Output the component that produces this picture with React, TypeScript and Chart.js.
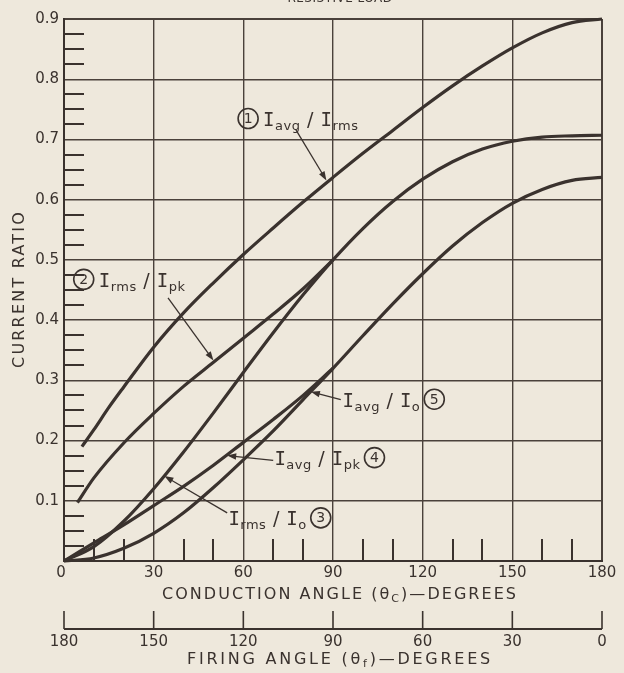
import React, { useEffect, useRef } from 'react';
import { Chart, registerables } from 'chart.js';

Chart.register(...registerables);

// ---------- data ----------
const conductionTicks = [0, 30, 60, 90, 120, 150, 180];
const firingTicks = [180, 150, 120, 90, 60, 30, 0];
const ratioTicks = [0.1, 0.2, 0.3, 0.4, 0.5, 0.6, 0.7, 0.8, 0.9];
const minorAngleTicks = [10, 20, 40, 50, 70, 80, 100, 110, 130, 140, 160, 170];

// (1) Iavg / Irms
const angles1 = [6, 10, 15, 20, 30, 40, 50, 60, 70, 80, 90, 100, 110, 120, 130, 140, 150, 160, 170, 180];
const avgOverRms = [0.19, 0.218, 0.255, 0.289, 0.355, 0.412, 0.462, 0.509, 0.553, 0.596, 0.637, 0.677, 0.715, 0.753, 0.789, 0.822, 0.852, 0.877, 0.894, 0.9];

// (2) Irms / Ipk (joins curve 3 at 90°)
const angles2 = [4.5, 10, 20, 30, 40, 50, 60, 70, 80, 90];
const rmsOverPk = [0.097, 0.138, 0.196, 0.245, 0.29, 0.33, 0.37, 0.41, 0.452, 0.5];

// (3) Irms / Io
const anglesFull = [0, 10, 20, 30, 40, 50, 60, 70, 80, 90, 100, 110, 120, 130, 140, 150, 160, 170, 180];
const rmsOverIo = [0, 0.024, 0.066, 0.12, 0.181, 0.246, 0.313, 0.379, 0.442, 0.5, 0.552, 0.597, 0.634, 0.663, 0.684, 0.697, 0.704, 0.706, 0.707];

// (4) Iavg / Ipk (joins curve 5 at 90°)
const anglesHalf = [0, 10, 20, 30, 40, 50, 60, 70, 80, 90];
const avgOverPk = [0, 0.03, 0.06, 0.092, 0.124, 0.159, 0.197, 0.235, 0.275, 0.32];

// (5) Iavg / Io
const avgOverIo = [0, 0.005, 0.021, 0.046, 0.08, 0.122, 0.168, 0.216, 0.268, 0.32, 0.374, 0.427, 0.477, 0.523, 0.562, 0.594, 0.617, 0.632, 0.637];

// ---------- style ----------
const BG = '#eee8dc';
const INK = '#3a322e';
const GRID = '#4a413b';
const SANS = '"DejaVu Sans", sans-serif';
const MONO = '"DejaVu Sans Mono", monospace';

type Part = { t: string; sub?: boolean; mono?: boolean; size?: number };

function drawParts(ctx: CanvasRenderingContext2D, x: number, baseline: number, parts: Part[], mainSize: number, subSize: number, subDy: number, spacing = 0, measureOnly = false): number {
  let cx = x;
  ctx.letterSpacing = spacing + 'px';
  for (const p of parts) {
    const size = p.size ?? (p.sub ? subSize : mainSize);
    ctx.font = `${size}px ${p.mono ? MONO : SANS}`;
    if (!measureOnly) ctx.fillText(p.t, cx, baseline + (p.sub ? subDy : 0));
    cx += ctx.measureText(p.t).width;
  }
  ctx.letterSpacing = '0px';
  return cx - x;
}

function arrow(ctx: CanvasRenderingContext2D, x1: number, y1: number, x2: number, y2: number) {
  const ang = Math.atan2(y2 - y1, x2 - x1);
  const L = 9, W = 3.2;
  ctx.beginPath();
  ctx.moveTo(x1, y1);
  ctx.lineTo(x2 - Math.cos(ang) * L * 0.8, y2 - Math.sin(ang) * L * 0.8);
  ctx.stroke();
  ctx.beginPath();
  ctx.moveTo(x2, y2);
  ctx.lineTo(x2 - Math.cos(ang) * L - Math.sin(ang) * W, y2 - Math.sin(ang) * L + Math.cos(ang) * W);
  ctx.lineTo(x2 - Math.cos(ang) * L + Math.sin(ang) * W, y2 - Math.sin(ang) * L - Math.cos(ang) * W);
  ctx.closePath();
  ctx.fill();
}

function circled(ctx: CanvasRenderingContext2D, cx: number, cy: number, n: string) {
  ctx.beginPath();
  ctx.lineWidth = 1.6;
  ctx.arc(cx, cy, 10, 0, Math.PI * 2);
  ctx.stroke();
  ctx.font = `14px ${SANS}`;
  ctx.textAlign = 'center';
  ctx.textBaseline = 'middle';
  ctx.fillText(n, cx, cy + 1);
  ctx.textAlign = 'left';
  ctx.textBaseline = 'alphabetic';
}

type Label = {
  n: string;
  parts: Part[];
  circleFirst: boolean;
  at: [number, number];
  tail: [number, number];
  head: [number, number];
};

const labels: Label[] = [
  { n: '1', parts: [{ t: 'I', mono: true }, { t: 'avg', sub: true }, { t: ' / ' }, { t: 'I', mono: true }, { t: 'rms', sub: true }], circleFirst: true, at: [61.6, 0.733], tail: [77.6, 0.716], head: [87.8, 0.632] },
  { n: '2', parts: [{ t: 'I', mono: true }, { t: 'rms', sub: true }, { t: ' / ' }, { t: 'I', mono: true }, { t: 'pk', sub: true }], circleFirst: true, at: [6.6, 0.466], tail: [34.8, 0.437], head: [50, 0.333] },
  { n: '5', parts: [{ t: 'I', mono: true }, { t: 'avg', sub: true }, { t: ' / ' }, { t: 'I', mono: true }, { t: 'o', sub: true }], circleFirst: false, at: [93.2, 0.267], tail: [92.6, 0.268], head: [82.6, 0.281] },
  { n: '4', parts: [{ t: 'I', mono: true }, { t: 'avg', sub: true }, { t: ' / ' }, { t: 'I', mono: true }, { t: 'pk', sub: true }], circleFirst: false, at: [70.4, 0.17], tail: [70.0, 0.167], head: [54.6, 0.175] },
  { n: '3', parts: [{ t: 'I', mono: true }, { t: 'rms', sub: true }, { t: ' / ' }, { t: 'I', mono: true }, { t: 'o', sub: true }], circleFirst: false, at: [55.0, 0.07], tail: [54.6, 0.08], head: [33.6, 0.141] },
];

const decor = {
  id: 'decor',
  beforeDraw(chart: any) {
    const ctx = chart.ctx as CanvasRenderingContext2D;
    ctx.save();
    ctx.fillStyle = BG;
    ctx.fillRect(0, 0, chart.width, chart.height);
    ctx.restore();
  },
  beforeDatasetsDraw(chart: any) {
    const ctx = chart.ctx as CanvasRenderingContext2D;
    const { chartArea, scales } = chart;
    const x = scales.x, y = scales.y;
    ctx.save();
    ctx.strokeStyle = INK;
    ctx.lineWidth = 2;
    for (let k = 1; k < 36; k++) {
      if (k % 4 === 0) continue;
      const py = Math.round(y.getPixelForValue(k * 0.025));
      ctx.beginPath();
      ctx.moveTo(chartArea.left, py);
      ctx.lineTo(chartArea.left + 20, py);
      ctx.stroke();
    }
    for (const a of minorAngleTicks) {
      const px = Math.round(x.getPixelForValue(a));
      ctx.beginPath();
      ctx.moveTo(px, chartArea.bottom);
      ctx.lineTo(px, chartArea.bottom - 22);
      ctx.stroke();
    }
    ctx.restore();
  },
  afterDraw(chart: any) {
    const ctx = chart.ctx as CanvasRenderingContext2D;
    const { chartArea, scales } = chart;
    const x = scales.x, y = scales.y;
    ctx.save();
    ctx.fillStyle = INK;
    ctx.strokeStyle = INK;

    // tick labels
    ctx.font = `15px ${SANS}`;
    ctx.textBaseline = 'middle';
    ctx.textAlign = 'center';
    for (const t of conductionTicks) {
      ctx.fillText(String(t), x.getPixelForValue(t) - (t === 0 ? 3 : 0), chartArea.bottom + 12);
    }
    ctx.textAlign = 'right';
    for (const t of ratioTicks) {
      ctx.fillText(t.toFixed(1), chartArea.left - 5, y.getPixelForValue(t));
    }

    // firing angle axis
    const axY = 629;
    ctx.lineWidth = 2;
    ctx.beginPath();
    ctx.moveTo(x.getPixelForValue(0), axY);
    ctx.lineTo(x.getPixelForValue(180), axY);
    ctx.stroke();
    ctx.lineWidth = 1.6;
    ctx.textAlign = 'center';
    for (const f of firingTicks) {
      const px = x.getPixelForValue(180 - f);
      ctx.beginPath();
      ctx.moveTo(px, axY);
      ctx.lineTo(px, axY - 18);
      ctx.stroke();
      ctx.fillText(String(f), px, axY + 13);
    }

    // axis titles
    ctx.textAlign = 'left';
    ctx.textBaseline = 'middle';
    const titleRow = (parts: Part[], cx: number, cy: number, target: number) => {
      const w0 = drawParts(ctx, 0, 0, parts, 16, 11, 4, 0, true);
      const nChars = parts.reduce((s, p) => s + p.t.length, 0);
      const sp = (target - w0) / nChars;
      const w = drawParts(ctx, 0, 0, parts, 16, 11, 4, sp, true);
      drawParts(ctx, cx - w / 2, cy, parts, 16, 11, 4, sp);
    };
    titleRow([{ t: 'CONDUCTION ANGLE (θ' }, { t: 'C', sub: true }, { t: ')—DEGREES' }], 340, 595, 356);
    titleRow([{ t: 'FIRING ANGLE (θ' }, { t: 'f', sub: true }, { t: ')—DEGREES' }], 340, 660, 306);
    ctx.save();
    ctx.translate(20, 289);
    ctx.rotate(-Math.PI / 2);
    titleRow([{ t: 'CURRENT RATIO' }], 0, 0, 158);
    ctx.restore();

    // cut-off heading at the very top
    ctx.font = `12px ${SANS}`;
    ctx.textAlign = 'center';
    ctx.textBaseline = 'alphabetic';
    ctx.letterSpacing = '0.5px';
    ctx.fillText('RESISTIVE LOAD', 340, 1.5);
    ctx.letterSpacing = '0px';
    ctx.textAlign = 'left';

    // curve labels
    for (const L of labels) {
      const ax = x.getPixelForValue(L.at[0]);
      const ay = y.getPixelForValue(L.at[1]);
      const base = ay + 6.5;
      if (L.circleFirst) {
        circled(ctx, ax, ay - 1, L.n);
        drawParts(ctx, ax + 15, base, L.parts, 19, 13, 4, 0.5);
      } else {
        const w = drawParts(ctx, ax, base, L.parts, 19, 13, 4, 0.5);
        circled(ctx, ax + w + 14, ay - 1, L.n);
      }
      ctx.lineWidth = 1.3;
      arrow(ctx, x.getPixelForValue(L.tail[0]), y.getPixelForValue(L.tail[1]), x.getPixelForValue(L.head[0]), y.getPixelForValue(L.head[1]));
    }
    ctx.restore();
  },
};

function pts(xs: number[], ys: number[]) {
  return xs.map((v, i) => ({ x: v, y: ys[i] }));
}

export default function App() {
  const ref = useRef<HTMLCanvasElement>(null);
  useEffect(() => {
    document.body.style.margin = '0';
    document.body.style.background = BG;
    const canvas = ref.current!;
    const edgeWidth = (c: any) => (c.index === 0 || c.index === (c.scale.ticks.length - 1) ? 2 : 1.4);
    const ds = (data: { x: number; y: number }[]) => ({
      data,
      borderColor: INK,
      borderWidth: 3.2,
      pointRadius: 0,
      fill: false,
      cubicInterpolationMode: 'monotone' as const,
      clip: false as any,
    });
    const chart = new Chart(canvas, {
      type: 'line',
      data: {
        datasets: [
          ds(pts(angles1, avgOverRms)),
          ds(pts(angles2, rmsOverPk)),
          ds(pts(anglesFull, rmsOverIo)),
          ds(pts(anglesHalf, avgOverPk)),
          ds(pts(anglesFull, avgOverIo)),
        ],
      },
      options: {
        animation: false,
        responsive: false,
        events: [],
        layout: { padding: { top: 19, right: 22, left: 0, bottom: 0 } },
        plugins: { legend: { display: false }, tooltip: { enabled: false }, title: { display: false } },
        scales: {
          x: {
            type: 'linear',
            min: 0,
            max: 180,
            ticks: { stepSize: 30, display: false },
            grid: { color: GRID, lineWidth: edgeWidth, drawTicks: false },
            border: { color: INK, width: 2 },
            afterFit: (s: any) => { s.height = 673 - 561; },
          },
          y: {
            type: 'linear',
            min: 0,
            max: 0.9,
            ticks: { stepSize: 0.1, display: false },
            grid: { color: GRID, lineWidth: edgeWidth, drawTicks: false },
            border: { color: INK, width: 2 },
            afterFit: (s: any) => { s.width = 64; },
          },
        },
      },
      plugins: [decor],
    } as any);
    return () => chart.destroy();
  }, []);
  return (
    <div style={{ position: 'fixed', left: 0, top: 0, width: 624, height: 673, background: BG }}>
      <canvas ref={ref} width={624} height={673} style={{ display: 'block' }} />
    </div>
  );
}
